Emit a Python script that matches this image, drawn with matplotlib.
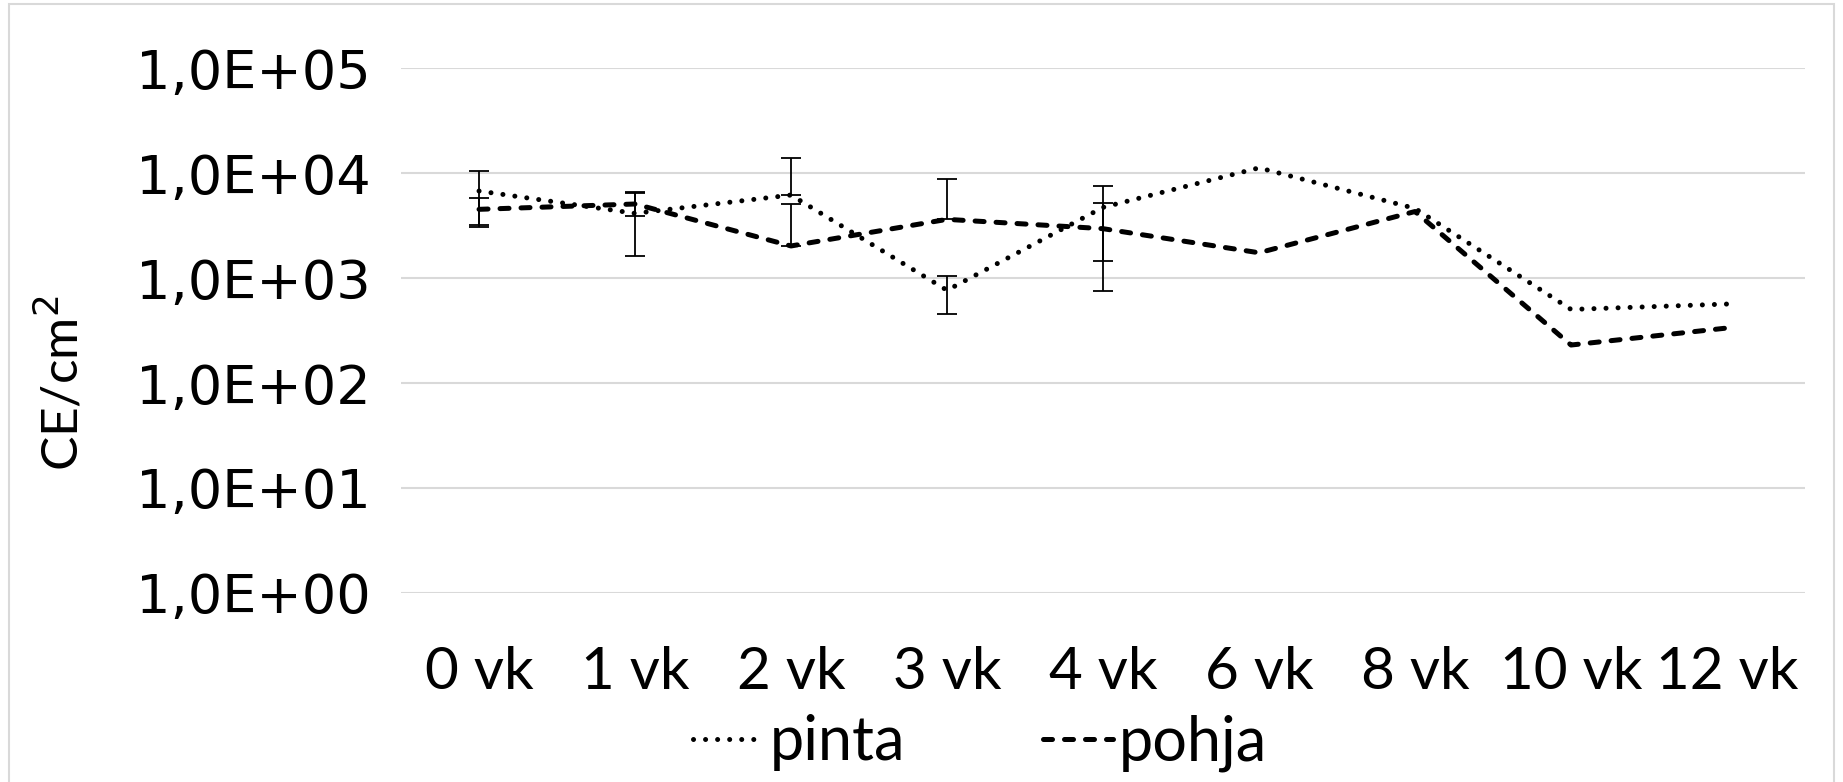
import matplotlib
matplotlib.use('Agg')
import matplotlib.pyplot as plt
from matplotlib.patches import Rectangle
from matplotlib.ticker import FixedLocator, FixedFormatter, NullLocator

# data
weeks = ['0 vk', '1 vk', '2 vk', '3 vk', '4 vk', '6 vk', '8 vk', '10 vk', '12 vk']
pinta = [6740, 4130, 6170, 764, 4710, 11200, 4600, 502, 565]
pohja = [4510, 5070, 2020, 3620, 2950, 1740, 4300, 230, 334]
# error bars (only first five weeks have them)
err_weeks = ['0 vk', '1 vk', '2 vk', '3 vk', '4 vk']
pinta_err_low = [3700, 2500, 0, 310, 3260]
pinta_err_high = [3760, 2510, 7830, 281, 2810]
pohja_err_low = [1300, 1190, 0, 0, 2190]
pohja_err_high = [1270, 1330, 3010, 5150, 2230]

yticks = [1e0, 1e1, 1e2, 1e3, 1e4, 1e5]
ytick_labels = ['1,0E+00', '1,0E+01', '1,0E+02', '1,0E+03', '1,0E+04', '1,0E+05']

fig = plt.figure(figsize=(18.43, 7.82), dpi=100)
ax = fig.add_axes([0.2176, 0.2417, 0.7618, 0.6713])

ax.set_yscale('log')
ax.set_ylim(1, 1e5)

l1, = ax.plot(weeks, pinta, color='black', lw=3.6, linestyle=(0, (0.01, 2.4)),
              dash_capstyle='round', label='pinta', zorder=3)
l2, = ax.plot(weeks, pohja, color='black', lw=3.6, linestyle=(0, (1.8, 2.4)),
              dash_capstyle='round', label='pohja', zorder=3)

ax.errorbar(err_weeks, pinta[:5], yerr=[pinta_err_low, pinta_err_high], fmt='none',
            ecolor='black', elinewidth=1.3, capsize=7, capthick=1.3, zorder=4)
ax.errorbar(err_weeks, pohja[:5], yerr=[pohja_err_low, pohja_err_high], fmt='none',
            ecolor='black', elinewidth=1.3, capsize=7, capthick=1.3, zorder=4)

ax.set_xlim(-0.5, len(weeks) - 0.5)

ax.yaxis.set_major_locator(FixedLocator(yticks))
ax.yaxis.set_major_formatter(FixedFormatter(ytick_labels))
ax.yaxis.set_minor_locator(NullLocator())
ax.grid(True, axis='y', color='#d9d9d9', lw=1.5)
ax.set_axisbelow(True)
for s in ax.spines.values():
    s.set_visible(False)
ax.tick_params(axis='both', length=0)
ax.tick_params(axis='y', pad=22, labelsize=39)
ax.tick_params(axis='x', pad=38)
for t in ax.get_yticklabels():
    t.set_fontfamily('DejaVu Sans')
for t in ax.get_xticklabels():
    t.set_fontfamily('Lato')
    t.set_fontsize(42)

ax.set_ylabel('CE/cm$^2$', fontsize=37, family=['Liberation Sans Narrow', 'Lato'])
ax.yaxis.set_label_coords(-0.223, 0.40)

leg = fig.legend(handles=[l1, l2], loc='center', bbox_to_anchor=(0.532, 0.05), ncol=2,
                 frameon=False, prop={'family': 'Lato', 'size': 44},
                 handlelength=1.15, handletextpad=0.1, columnspacing=2.25,
                 borderaxespad=0)

fig.patches.append(Rectangle((0.005, -0.01), 0.99, 1.005, transform=fig.transFigure,
                             fill=False, edgecolor='#d9d9d9', lw=1.5))

fig.savefig('out.png', dpi=100)
